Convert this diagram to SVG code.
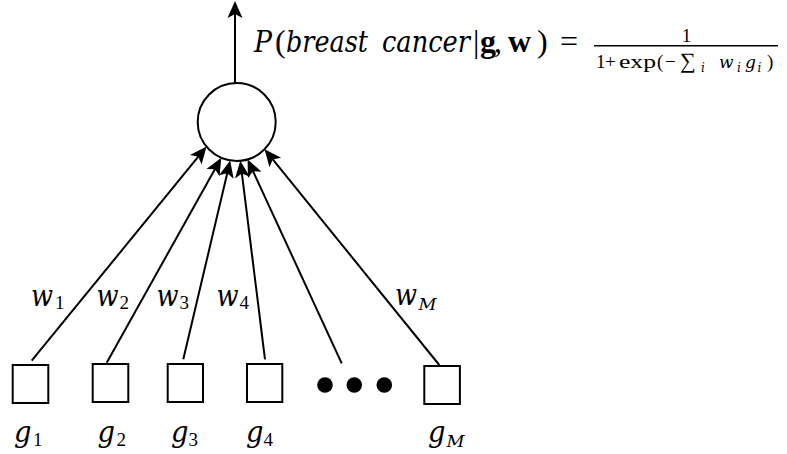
<svg xmlns="http://www.w3.org/2000/svg" width="787" height="454" viewBox="0 0 787 454">
<style>
.ln{stroke:#000;stroke-width:2;fill:none}
.nd{stroke:#000;stroke-width:2;fill:#fff}
.m{font-family:"Liberation Serif","DejaVu Serif",serif;fill:#000}
.it{font-family:"DejaVu Serif",serif;font-style:italic}
.bf{font-weight:bold}
.lab{font-size:29px}
.sub{font-family:"Liberation Serif",serif;font-size:19px;font-style:normal}
.subi{font-size:17px}
</style>
<defs>
<marker id="ah" markerUnits="userSpaceOnUse" viewBox="-16 -9 22 18" refX="0" refY="0" markerWidth="22" markerHeight="18" orient="auto" overflow="visible">
<path d="M4,0 L-13,-7.5 L-9,0 L-13,7.5 Z" fill="#000"/>
</marker>
</defs>
<rect width="787" height="454" fill="#fff"/>
<g id="connectors">
<line class="ln" x1="235" y1="83" x2="235" y2="5" marker-end="url(#ah)"/>
<line class="ln" x1="31.7" y1="360.7" x2="204.0" y2="149.7" marker-end="url(#ah)"/>
<line class="ln" x1="106.7" y1="362.7" x2="219.35" y2="161.3" marker-end="url(#ah)"/>
<line class="ln" x1="183.3" y1="359.3" x2="229.3" y2="164.4" marker-end="url(#ah)"/>
<line class="ln" x1="265" y1="359.3" x2="240.8" y2="164.67" marker-end="url(#ah)"/>
<line class="ln" x1="341.7" y1="363.3" x2="249.3" y2="163.1" marker-end="url(#ah)"/>
<line class="ln" x1="439.3" y1="365" x2="267.1" y2="152.4" marker-end="url(#ah)"/>
</g>
<g id="weights" class="m">
<text class="it lab" x="31" y="306" textLength="22" lengthAdjust="spacingAndGlyphs">w</text><text class="sub" x="55" y="309">1</text>
<text class="it lab" x="96.5" y="306" textLength="22" lengthAdjust="spacingAndGlyphs">w</text><text class="sub" x="119.5" y="309">2</text>
<text class="it lab" x="156.5" y="306" textLength="22" lengthAdjust="spacingAndGlyphs">w</text><text class="sub" x="179.5" y="309">3</text>
<text class="it lab" x="216.5" y="306" textLength="22" lengthAdjust="spacingAndGlyphs">w</text><text class="sub" x="239.5" y="309">4</text>
<text class="it lab" x="395" y="305" textLength="22" lengthAdjust="spacingAndGlyphs">w</text><text class="it subi" x="418.5" y="310" textLength="18" lengthAdjust="spacingAndGlyphs">M</text>
</g>
<g id="output">
<circle class="nd" cx="236.7" cy="122" r="39"/>
</g>
<g id="formula" class="m">
<text y="52" font-size="32"><tspan class="it" x="254" font-size="30" textLength="18" lengthAdjust="spacingAndGlyphs">P</tspan><tspan x="275">(</tspan><tspan class="it" x="286" font-size="30" textLength="82" lengthAdjust="spacingAndGlyphs">breast</tspan><tspan class="it" x="382" font-size="30" textLength="88" lengthAdjust="spacingAndGlyphs">cancer</tspan><tspan x="473">|</tspan><tspan class="bf" x="480">g</tspan><tspan x="494">,</tspan><tspan class="bf" x="508">w</tspan><tspan x="537">)</tspan><tspan x="560">=</tspan></text>
<text x="686.5" y="42" font-size="19" text-anchor="middle">1</text>
<line x1="594" y1="45.7" x2="778" y2="45.7" stroke="#000" stroke-width="1.6"/>
<text y="68" font-size="19"><tspan x="596">1</tspan><tspan x="605">+</tspan><tspan x="619" textLength="37" lengthAdjust="spacingAndGlyphs">exp</tspan><tspan x="657">(</tspan><tspan x="665">−</tspan><tspan x="680" font-size="22">∑</tspan><tspan class="it" x="701" y="72" font-size="12">i</tspan><tspan class="it" x="719" y="68" font-size="17">w</tspan><tspan class="it" x="737" y="72" font-size="12">i</tspan><tspan class="it" x="745" y="68" font-size="17">g</tspan><tspan class="it" x="757.5" y="72" font-size="12">i</tspan><tspan x="767" y="68">)</tspan></text>
</g>
<g id="g1">
<rect class="nd" x="12.7" y="365" width="35.6" height="38"/>
<text class="m"><tspan class="it lab" x="14" y="442" textLength="17.5" lengthAdjust="spacingAndGlyphs">g</tspan><tspan class="sub" x="33" y="446">1</tspan></text>
</g>
<g id="g2">
<rect class="nd" x="92.7" y="364" width="35.6" height="38"/>
<text class="m"><tspan class="it lab" x="97.5" y="442" textLength="17.5" lengthAdjust="spacingAndGlyphs">g</tspan><tspan class="sub" x="116.5" y="446">2</tspan></text>
</g>
<g id="g3">
<rect class="nd" x="167.7" y="364" width="35.3" height="38"/>
<text class="m"><tspan class="it lab" x="171" y="442" textLength="17.5" lengthAdjust="spacingAndGlyphs">g</tspan><tspan class="sub" x="188.5" y="446">3</tspan></text>
</g>
<g id="g4">
<rect class="nd" x="247" y="364" width="35.3" height="38"/>
<text class="m"><tspan class="it lab" x="246" y="442" textLength="17.5" lengthAdjust="spacingAndGlyphs">g</tspan><tspan class="sub" x="263.5" y="446">4</tspan></text>
</g>
<g id="dots">
<circle cx="325" cy="385" r="7.8" fill="#000"/>
<circle cx="354.3" cy="385" r="7.8" fill="#000"/>
<circle cx="384.3" cy="385" r="7.8" fill="#000"/>
</g>
<g id="gM">
<rect class="nd" x="424.3" y="366" width="35.6" height="38"/>
<text class="m"><tspan class="it lab" x="428" y="442" textLength="17.5" lengthAdjust="spacingAndGlyphs">g</tspan><tspan class="it subi" x="446.5" y="447" textLength="18" lengthAdjust="spacingAndGlyphs">M</tspan></text>
</g>
</svg>
